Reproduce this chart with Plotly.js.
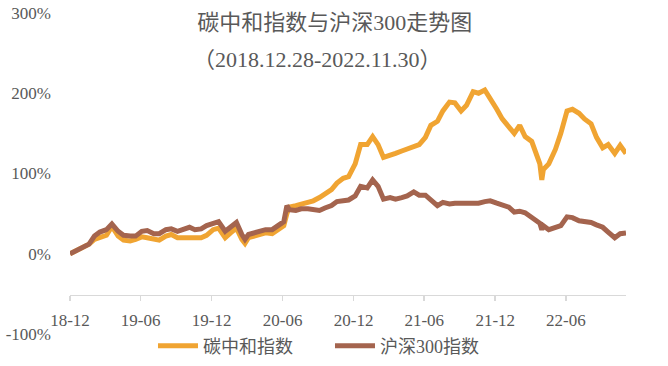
<!DOCTYPE html>
<html>
<head>
<meta charset="utf-8">
<script src="https://cdn.plot.ly/plotly-3.0.1.min.js"></script>
<style>html,body{margin:0;padding:0;background:#fff;}#chart{width:668px;height:366px;}</style>
</head>
<body>
<div id="chart"></div>
<script>
const dates = ['2018-12-28','2019-01-15','2019-02-01','2019-02-15','2019-03-01','2019-03-15','2019-04-01','2019-04-15','2019-05-01','2019-05-15','2019-06-01','2019-06-15','2019-07-01','2019-07-15','2019-08-01','2019-08-15','2019-09-01','2019-09-15','2019-10-01','2019-10-15','2019-11-01','2019-11-15','2019-12-01','2019-12-15','2020-01-01','2020-01-15','2020-02-01','2020-02-15','2020-03-01','2020-03-15','2020-03-23','2020-04-01','2020-04-15','2020-05-01','2020-05-15','2020-06-01','2020-06-15','2020-07-01','2020-07-09','2020-07-15','2020-08-01','2020-08-15','2020-09-01','2020-09-15','2020-10-01','2020-10-15','2020-11-01','2020-11-15','2020-12-01','2020-12-15','2021-01-01','2021-01-15','2021-02-01','2021-02-15','2021-03-01','2021-03-15','2021-04-01','2021-04-15','2021-05-01','2021-05-15','2021-06-01','2021-06-15','2021-07-01','2021-07-15','2021-08-01','2021-08-15','2021-09-01','2021-09-15','2021-10-01','2021-10-15','2021-11-01','2021-11-15','2021-12-01','2021-12-15','2022-01-01','2022-01-15','2022-02-01','2022-02-15','2022-03-01','2022-03-15','2022-04-01','2022-04-15','2022-04-22','2022-04-27','2022-05-01','2022-05-15','2022-06-01','2022-06-15','2022-07-01','2022-07-15','2022-08-01','2022-08-15','2022-09-01','2022-09-15','2022-10-01','2022-10-15','2022-11-01','2022-11-15','2022-11-30'];

// 碳中和指数 cumulative return (%)
const carbonIdx = [0,4,8,12,18,21,23,34,22,17,16,18,21,20,19,17,22,24,20,20,19,19,20,23,30,32,20,26,32,18,13,20,22,24,26,25,30,35,50,58,60,62,64,66,70,74,80,88,94,96,112,136,136,146,136,120,122,125,128,130,134,136,145,160,165,178,189,188,178,185,202,200,204,194,180,168,158,150,160,146,140,122,112,92,105,112,130,150,178,180,175,168,162,145,132,136,125,135,125];

// 沪深300指数 cumulative return (%)
const hs300 = [0,4,8,12,22,27,30,37,28,23,22,22,28,29,25,25,30,31,28,30,33,30,31,35,38,40,28,34,39,24,18,24,26,28,30,30,35,40,60,55,54,56,56,55,54,57,60,65,66,67,72,84,82,92,84,68,70,68,70,72,77,73,73,68,60,64,62,63,63,62,62,63,65,66,63,61,58,52,53,51,45,40,38,30,35,30,32,35,46,45,41,40,39,36,33,27,20,25,26];

const seriesNames = ['碳中和指数','沪深300指数'];
const xTickVals = ['2018-12-28','2019-06-28','2019-12-28','2020-06-28','2020-12-28','2021-06-28','2021-12-28','2022-06-28'];
const xTickText = ['18-12','19-06','19-12','20-06','20-12','21-06','21-12','22-06'];
const yTickVals = [-100,0,100,200,300];
const yTickText = ['-100%','0%','100%','200%','300%'];
const titleText = '碳中和指数与沪深300走势图';
const subtitleText = '（2018.12.28-2022.11.30）';

const FONT = '"Liberation Serif", "Noto Sans CJK SC", serif';
const GREY = '#595959';

const PH = 366 - 13 - 12;
const traces = [
  {x: dates, y: carbonIdx, name: seriesNames[0], type: 'scatter', mode: 'lines',
   line: {color: '#F0A432', width: 5}},
  {x: dates, y: hs300, name: seriesNames[1], type: 'scatter', mode: 'lines',
   line: {color: '#A4644E', width: 5}}
];

const layout = {
  width: 668, height: 366,
  margin: {l: 70, r: 42, t: 13, b: 12, autoexpand: false},
  paper_bgcolor: '#fff', plot_bgcolor: '#fff',
  font: {family: FONT, color: GREY, size: 16},
  showlegend: true,
  title: {text: titleText, x: 0.476, xanchor: 'center', xref: 'paper', y: 1 - 22/366, yanchor: 'middle', yref: 'container',
          font: {family: FONT, size: 22, color: GREY}},
  annotations: [{text: subtitleText, xref: 'paper', yref: 'paper', x: 0.446, y: (354 - 60)/PH, xanchor: 'center', yanchor: 'middle',
                 showarrow: false, font: {family: FONT, size: 22, color: GREY}}],
  xaxis: {
    type: 'date', range: ['2018-12-28','2022-11-30'],
    anchor: 'free', position: (354 - 294.5)/PH,
    showline: true, linecolor: '#d9d9d9', linewidth: 1.5,
    ticks: 'outside', ticklen: 5, tickcolor: '#d9d9d9', tickwidth: 1.5,
    tickvals: xTickVals, ticktext: xTickText,
    ticklabelstandoff: 5,
    showgrid: false, zeroline: false, automargin: false,
    tickfont: {family: FONT, size: 17, color: GREY}
  },
  yaxis: {
    domain: [(354 - 334)/PH, 1],
    range: [-100, 300],
    tickvals: yTickVals, ticktext: yTickText,
    showgrid: false, zeroline: false, showline: false, ticks: '',
    ticklabelstandoff: 18, automargin: false,
    tickfont: {family: FONT, size: 17, color: GREY}
  },
  legend: {orientation: 'h', xref: 'container', yref: 'container', x: 0.494, xanchor: 'center', y: 1 - 346/366, yanchor: 'middle',
           font: {family: FONT, size: 18, color: GREY}, entrywidth: 122, itemwidth: 40, bgcolor: 'rgba(0,0,0,0)'},
  hovermode: false
};

Plotly.newPlot('chart', traces, layout, {displayModeBar: false, staticPlot: true});
</script>
</body>
</html>
